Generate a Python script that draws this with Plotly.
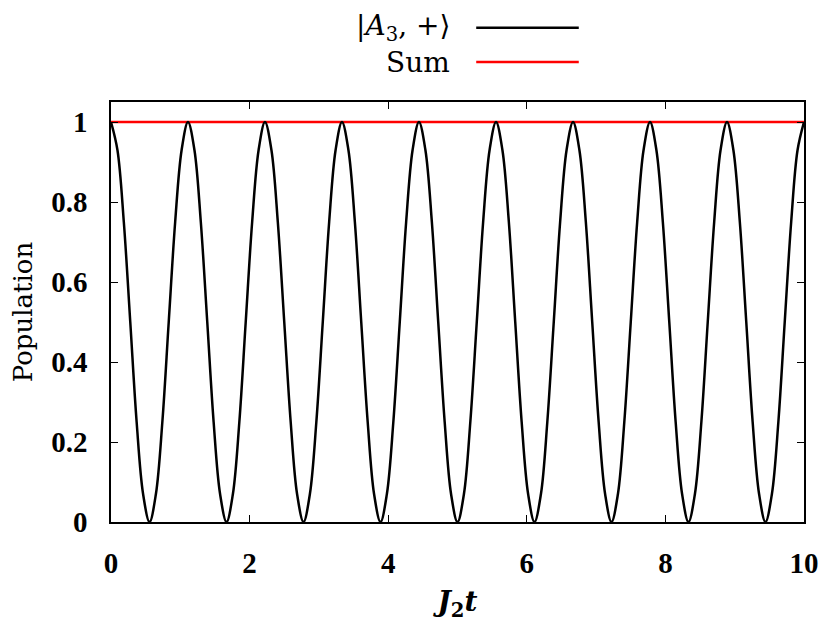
import plotly.graph_objects as go

# Time samples (J2 t), twelve samples per oscillation
t_vals = [0.0, 0.093, 0.185, 0.278, 0.370, 0.463, 0.556, 0.648, 0.741, 0.833, 0.926, 1.019,
          1.111, 1.204, 1.296, 1.389, 1.481, 1.574, 1.667, 1.759, 1.852, 1.944, 2.037, 2.130,
          2.222, 2.315, 2.407, 2.5, 2.593, 2.685, 2.778, 2.870, 2.963, 3.056, 3.148, 3.241,
          3.333, 3.426, 3.519, 3.611, 3.704, 3.796, 3.889, 3.981, 4.074, 4.167, 4.259, 4.352,
          4.444, 4.537, 4.630, 4.722, 4.815, 4.907, 5.0, 5.093, 5.185, 5.278, 5.370, 5.463,
          5.556, 5.648, 5.741, 5.833, 5.926, 6.019, 6.111, 6.204, 6.296, 6.389, 6.481, 6.574,
          6.667, 6.759, 6.852, 6.944, 7.037, 7.130, 7.222, 7.315, 7.407, 7.5, 7.593, 7.685,
          7.778, 7.870, 7.963, 8.056, 8.148, 8.241, 8.333, 8.426, 8.519, 8.611, 8.704, 8.796,
          8.889, 8.981, 9.074, 9.167, 9.259, 9.352, 9.444, 9.537, 9.630, 9.722, 9.815, 9.907,
          10.0]

# Population of |A3,+>
pop_a3 = [1, 0.93, 0.75, 0.5, 0.25, 0.07, 0, 0.07, 0.25, 0.5, 0.75, 0.93,
          1, 0.93, 0.75, 0.5, 0.25, 0.07, 0, 0.07, 0.25, 0.5, 0.75, 0.93,
          1, 0.93, 0.75, 0.5, 0.25, 0.07, 0, 0.07, 0.25, 0.5, 0.75, 0.93,
          1, 0.93, 0.75, 0.5, 0.25, 0.07, 0, 0.07, 0.25, 0.5, 0.75, 0.93,
          1, 0.93, 0.75, 0.5, 0.25, 0.07, 0, 0.07, 0.25, 0.5, 0.75, 0.93,
          1, 0.93, 0.75, 0.5, 0.25, 0.07, 0, 0.07, 0.25, 0.5, 0.75, 0.93,
          1, 0.93, 0.75, 0.5, 0.25, 0.07, 0, 0.07, 0.25, 0.5, 0.75, 0.93,
          1, 0.93, 0.75, 0.5, 0.25, 0.07, 0, 0.07, 0.25, 0.5, 0.75, 0.93,
          1, 0.93, 0.75, 0.5, 0.25, 0.07, 0, 0.07, 0.25, 0.5, 0.75, 0.93,
          1]

# Sum of populations
sum_t = [0.0, 10.0]
sum_vals = [1.0, 1.0]

x_ticks = [0, 2, 4, 6, 8, 10]
x_tick_labels = ["0", "2", "4", "6", "8", "10"]
y_ticks = [0, 0.2, 0.4, 0.6, 0.8, 1]
y_tick_labels = ["0", "0.2", "0.4", "0.6", "0.8", "1"]

names = ["|<i>A</i><sub>3</sub>, +⟩", "Sum"]
colors = ["black", "red"]

SERIF = "DejaVu Serif, Liberation Serif, serif"
TICKF = "Liberation Serif, DejaVu Serif, serif"

fig = go.Figure()
fig.add_trace(go.Scatter(x=sum_t, y=sum_vals, mode="lines", name=names[1],
                         line=dict(color=colors[1], width=2.5), showlegend=False))
fig.add_trace(go.Scatter(x=t_vals, y=pop_a3, mode="lines", name=names[0],
                         line=dict(color=colors[0], width=2.5, shape="spline", smoothing=1.0),
                         showlegend=False))

# Gnuplot-style legend: text on the left, line sample on the right
leg_y = [1.177, 1.095]
for name, col, yy in zip(names, colors, leg_y):
    fig.add_annotation(x=0.492, y=yy, xref="paper", yref="paper", text=name,
                       showarrow=False, xanchor="right", yanchor="middle",
                       font=dict(family=SERIF, size=28, color="black"))
    fig.add_shape(type="line", xref="paper", yref="paper", x0=0.527, x1=0.675,
                  y0=yy, y1=yy, line=dict(color=col, width=2.5))

fig.update_layout(
    width=827, height=621,
    margin=dict(l=103, r=31, t=94, b=107),
    paper_bgcolor="white", plot_bgcolor="white",
    font=dict(family=SERIF, color="black"),
)
fig.update_xaxes(range=[0, 10], tickvals=x_ticks, ticktext=x_tick_labels,
                 ticks="inside", ticklen=7, tickwidth=1.2, tickcolor="black",
                 showline=True, linecolor="black", linewidth=1.5, mirror="ticks",
                 showgrid=False, zeroline=False, ticklabelstandoff=14,
                 tickfont=dict(family=TICKF, size=29, weight="bold"),
                 title=dict(text="<b><i>J</i></b><sub><b>2</b></sub><b><i>t</i></b>",
                            font=dict(family=SERIF, size=28), standoff=14))
fig.update_yaxes(range=[0, 1.05], tickvals=y_ticks, ticktext=y_tick_labels,
                 ticks="inside", ticklen=7, tickwidth=1.2, tickcolor="black",
                 showline=True, linecolor="black", linewidth=1.5, mirror="ticks",
                 showgrid=False, zeroline=False, ticklabelstandoff=16,
                 tickfont=dict(family=TICKF, size=29, weight="bold"),
                 title=dict(text="Population", font=dict(family=SERIF, size=26), standoff=14))

fig.write_html("out.html")
